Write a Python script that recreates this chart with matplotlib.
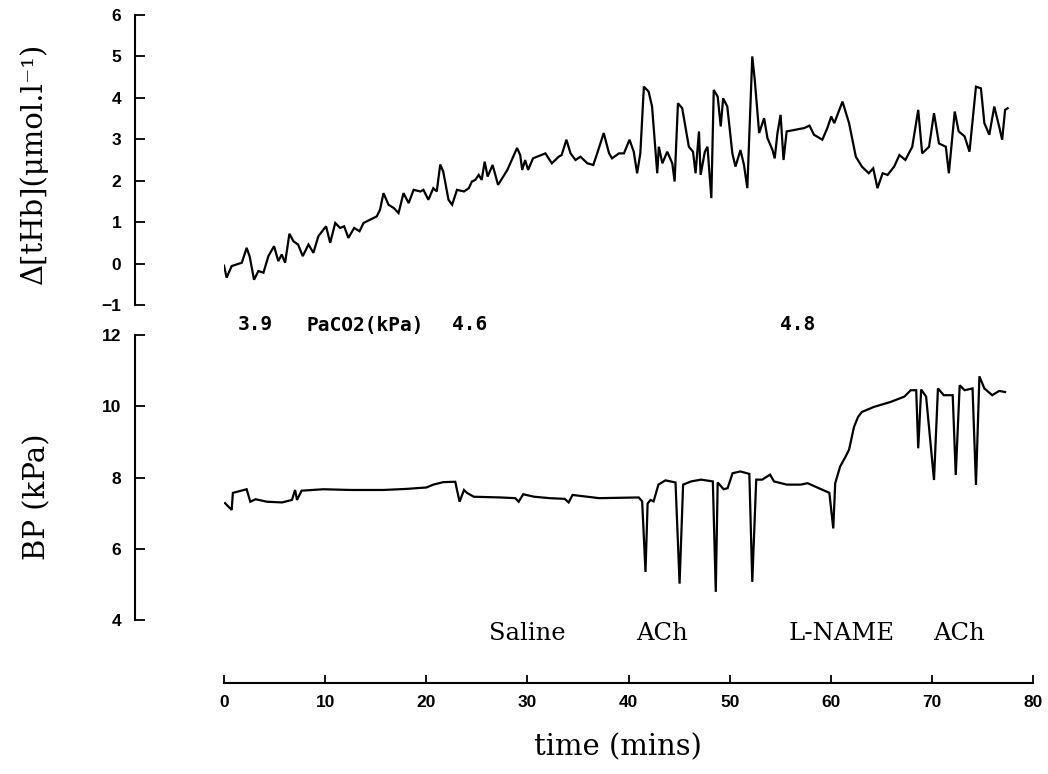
import matplotlib
matplotlib.use("Agg")
import matplotlib.pyplot as plt
import matplotlib.transforms as mtransforms

# ---- data (time in minutes) ----
thb_time = [0.0, 0.26, 0.76, 1.76, 2.24, 2.54, 2.97, 3.4, 3.9, 4.39, 4.95, 5.37, 5.71, 6.04,
            6.47, 6.86, 7.32, 7.79, 8.35, 8.84, 9.33, 10.09, 10.5, 11.0, 11.48, 11.88, 12.3,
            12.87, 13.4, 13.8, 14.45, 15.11, 15.43, 15.77, 16.27, 16.79, 17.26, 17.75, 18.26,
            18.75, 19.43, 19.72, 20.21, 20.7, 21.04, 21.38, 21.68, 22.2, 22.56, 23.04, 23.73,
            24.21, 24.51, 24.85, 25.19, 25.48, 25.78, 26.07, 26.56, 27.1, 28.02, 28.98, 29.29,
            29.49, 29.78, 30.07, 30.56, 31.78, 32.42, 33.1, 33.39, 33.86, 34.27, 34.76, 35.25,
            35.93, 36.52, 37.01, 37.55, 38.08, 38.37, 39.06, 39.55, 40.1, 40.52, 40.85, 41.17,
            41.52, 41.99, 42.33, 42.84, 43.0, 43.35, 43.83, 44.33, 44.56, 44.89, 45.31, 45.97,
            46.38, 46.63, 46.97, 47.13, 47.55, 47.81, 48.19, 48.43, 48.82, 49.12, 49.36, 49.77,
            50.27, 50.58, 51.07, 51.42, 51.75, 52.24, 52.49, 52.92, 53.41, 53.74, 54.24, 54.46,
            54.73, 55.04, 55.33, 55.64, 57.36, 57.9, 58.34, 59.17, 59.66, 60.05, 60.35, 61.16,
            61.81, 62.48, 63.08, 63.76, 64.2, 64.62, 65.13, 65.62, 66.27, 66.79, 67.38, 68.06,
            68.65, 69.04, 69.72, 70.21, 70.7, 71.38, 71.68, 72.26, 72.65, 73.24, 73.72, 74.36,
            74.85, 75.19, 75.68, 76.17, 76.65, 76.95, 77.24, 77.49]
thb_value = [-0.05, -0.34, -0.06, 0.02, 0.38, 0.17, -0.39, -0.18, -0.22, 0.18, 0.42, 0.06, 0.22,
             0.02, 0.72, 0.54, 0.46, 0.18, 0.46, 0.26, 0.66, 0.9, 0.5, 0.98, 0.86, 0.9, 0.62,
             0.86, 0.78, 0.98, 1.06, 1.14, 1.3, 1.7, 1.42, 1.34, 1.22, 1.7, 1.46, 1.78, 1.74,
             1.78, 1.54, 1.82, 1.74, 2.39, 2.22, 1.54, 1.42, 1.78, 1.74, 1.82, 1.98, 2.02, 2.14,
             2.02, 2.46, 2.1, 2.38, 1.9, 2.26, 2.79, 2.62, 2.26, 2.5, 2.26, 2.54, 2.66, 2.42,
             2.58, 2.62, 2.99, 2.66, 2.5, 2.58, 2.42, 2.38, 2.74, 3.15, 2.66, 2.54, 2.66, 2.66,
             2.99, 2.7, 2.18, 2.66, 4.27, 4.15, 3.79, 2.18, 2.82, 2.42, 2.7, 2.42, 1.98, 3.87,
             3.75, 2.82, 2.7, 2.18, 3.19, 2.14, 2.7, 2.82, 1.58, 4.19, 4.03, 3.31, 3.99, 3.79,
             2.66, 2.34, 2.74, 2.38, 1.82, 5.0, 4.42, 3.15, 3.51, 3.03, 2.74, 2.54, 3.15, 3.59,
             2.5, 3.19, 3.27, 3.33, 3.11, 2.99, 3.27, 3.55, 3.39, 3.91, 3.39, 2.58, 2.34, 2.18,
             2.3, 1.82, 2.18, 2.14, 2.34, 2.62, 2.5, 2.82, 3.71, 2.66, 2.82, 3.63, 2.9, 2.82,
             2.18, 3.67, 3.19, 3.07, 2.7, 4.27, 4.23, 3.39, 3.11, 3.79, 3.31, 2.99, 3.71, 3.75]

bp_time = [0.1, 0.76, 0.88, 1.17, 2.24, 2.6, 3.12, 4.25, 5.73, 6.72, 7.03, 7.22, 7.67, 9.83,
           12.5, 15.77, 18.06, 20.02, 20.7, 21.68, 22.87, 23.04, 23.3, 23.73, 24.02, 24.7,
           27.34, 28.8, 29.14, 29.59, 30.66, 32.22, 33.69, 34.08, 34.47, 37.1, 41.01, 41.35,
           41.68, 41.89, 42.18, 42.48, 42.96, 43.65, 44.65, 45.05, 45.4, 46.19, 47.16, 48.34,
           48.63, 48.82, 49.41, 49.8, 50.29, 51.07, 51.95, 52.24, 52.63, 53.22, 54.0, 54.39,
           55.66, 57.03, 57.71, 58.98, 59.86, 60.25, 60.44, 60.93, 61.4, 61.81, 62.3, 62.7,
           63.08, 64.25, 65.91, 67.28, 67.91, 68.45, 68.65, 68.94, 69.43, 70.21, 70.6, 71.18,
           72.06, 72.36, 72.75, 73.24, 74.02, 74.36, 74.7, 75.19, 75.97, 76.65, 77.24]
bp_value = [7.28, 7.09, 7.57, 7.59, 7.67, 7.32, 7.39, 7.32, 7.3, 7.37, 7.65, 7.37, 7.63, 7.67,
            7.65, 7.65, 7.68, 7.72, 7.8, 7.87, 7.88, 7.65, 7.32, 7.65, 7.57, 7.46, 7.44, 7.42,
            7.32, 7.53, 7.46, 7.42, 7.4, 7.3, 7.51, 7.42, 7.44, 7.33, 5.35, 7.27, 7.37, 7.33,
            7.8, 7.92, 7.86, 5.02, 7.8, 7.89, 7.94, 7.89, 4.79, 7.86, 7.67, 7.7, 8.12, 8.17,
            8.1, 5.07, 7.94, 7.94, 8.08, 7.89, 7.8, 7.8, 7.84, 7.68, 7.57, 6.57, 7.84, 8.31,
            8.55, 8.78, 9.42, 9.7, 9.84, 9.98, 10.12, 10.27, 10.45, 10.45, 8.82, 10.47, 10.27,
            7.93, 10.5, 10.31, 10.31, 8.07, 10.59, 10.45, 10.5, 7.79, 10.84, 10.5, 10.31, 10.43,
            10.4]

x_ticks = [0, 10, 20, 30, 40, 50, 60, 70, 80]
thb_ticks = [-1, 0, 1, 2, 3, 4, 5, 6]
bp_ticks = [4, 6, 8, 10, 12]

paco2_labels = [(3.1, "3.9"), (13.95, "PaCO2(kPa)"), (24.3, "4.6"), (56.7, "4.8")]
event_labels = [(30.0, "Saline"), (43.3, "ACh"), (61.1, "L-NAME"), (72.7, "ACh")]

# ---- figure ----
W, H = 1048, 774
fig = plt.figure(figsize=(W / 100, H / 100), dpi=100)

def frac_rect(x0, y0, x1, y1):
    return [x0 / W, 1 - y1 / H, (x1 - x0) / W, (y1 - y0) / H]

ax_top = fig.add_axes(frac_rect(224, 15, 1033, 305))
ax_bot = fig.add_axes(frac_rect(224, 335, 1033, 620))

lw = 1.5
tick_family, tick_weight, tick_size = "Liberation Sans", "bold", 12.5

for ax in (ax_top, ax_bot):
    ax.set_xlim(0, 80)
    for s in ("top", "right"):
        ax.spines[s].set_visible(False)
    ax.spines["left"].set_position(("outward", 64))
    ax.spines["left"].set_linewidth(lw)
    ax.tick_params(axis="y", direction="in", length=7, width=1.3, pad=10)
    ax.patch.set_visible(False)

ax_top.plot(thb_time, thb_value, color="black", lw=1.6, solid_joinstyle="miter")
ax_top.set_ylim(-1, 6)
ax_top.set_yticks(thb_ticks)
ax_top.spines["left"].set_bounds(-1, 6)
ax_top.spines["bottom"].set_visible(False)
ax_top.set_xticks([])

ax_bot.plot(bp_time, bp_value, color="black", lw=1.6, solid_joinstyle="miter")
ax_bot.set_ylim(4, 12)
ax_bot.set_yticks(bp_ticks)
ax_bot.spines["left"].set_bounds(4, 12)
ax_bot.spines["bottom"].set_position(("outward", 45))
ax_bot.spines["bottom"].set_bounds(0, 80)
ax_bot.spines["bottom"].set_linewidth(lw)
ax_bot.set_xticks(x_ticks)
ax_bot.tick_params(axis="x", direction="in", length=6, width=1.3, pad=9)

for ax in (ax_top, ax_bot):
    for lab in ax.get_yticklabels() + ax.get_xticklabels():
        lab.set_fontfamily(tick_family)
        lab.set_fontweight(tick_weight)
        lab.set_fontsize(tick_size)

fig.text(618 / W, 1 - 747 / H, "time (mins)", ha="center", va="center",
         family="DejaVu Serif", fontsize=21)

fig.text(33 / W, 1 - 163 / H, "Δ[tHb](μmol.l⁻¹)", rotation=90, ha="center", va="center",
         family="DejaVu Serif", fontsize=21)
fig.text(37 / W, 1 - 497 / H, "BP (kPa)", rotation=90, ha="center", va="center",
         family="DejaVu Serif", fontsize=21)

trans = mtransforms.blended_transform_factory(ax_bot.transData, fig.transFigure)
for x, s in paco2_labels:
    ax_bot.text(x, 1 - 325 / H, s, transform=trans, ha="center", va="center",
                family="DejaVu Sans Mono", weight="bold", fontsize=14, clip_on=False)
for x, s in event_labels:
    ax_bot.text(x, 1 - 633 / H, s, transform=trans, ha="center", va="center",
                family="DejaVu Serif", fontsize=17.5, clip_on=False)

fig.savefig("out.png", dpi=100, facecolor="white")
